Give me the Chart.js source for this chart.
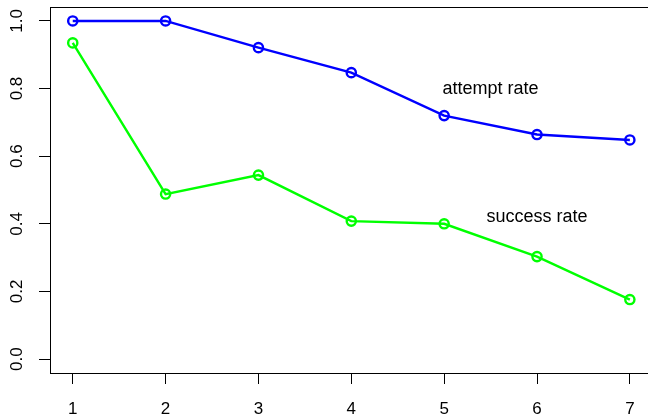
<!DOCTYPE html>
<html>
<head>
<meta charset="utf-8">
<script src="https://cdn.jsdelivr.net/npm/chart.js@4.4.1/dist/chart.umd.min.js"></script>
<style>
  html, body { margin: 0; padding: 0; background: #fff; }
  #wrap { width: 648px; height: 420px; }
</style>
</head>
<body>
<div id="wrap"><canvas id="rates" width="648" height="420"></canvas></div>
<script>
const steps = [1, 2, 3, 4, 5, 6, 7];
const attemptRate = [1.0, 1.0, 0.921, 0.847, 0.72, 0.664, 0.648];
const successRate = [0.935, 0.488, 0.544, 0.408, 0.4, 0.303, 0.176];
const yTicks = [0, 0.2, 0.4, 0.6, 0.8, 1.0];
const labelText = ["attempt rate", "success rate"];
const labelX = [5.5, 6.0];
const labelY = [0.80, 0.42];

const FONT = "'Liberation Sans', Arial, Helvetica, sans-serif";

// box round the plot region, plus the two text labels
const boxAndLabels = {
  id: "boxAndLabels",
  afterDatasetsDraw(chart) {
    const { ctx, chartArea: a, scales: { x, y } } = chart;
    ctx.save();
    ctx.strokeStyle = "#000";
    ctx.lineWidth = 1;
    ctx.strokeRect(a.left + 0.5, a.top + 0.5, a.right - a.left + 20, a.bottom - a.top);
    ctx.fillStyle = "#000";
    ctx.font = "18px " + FONT;
    ctx.textAlign = "center";
    ctx.textBaseline = "middle";
    labelText.forEach((t, i) => {
      ctx.fillText(t, x.getPixelForValue(labelX[i]), y.getPixelForValue(labelY[i]));
    });
    ctx.restore();
  }
};

const series = (data, color) => ({
  data: steps.map((s, i) => ({ x: s, y: data[i] })),
  borderColor: color,
  backgroundColor: "rgba(0,0,0,0)",
  borderWidth: 2.4,
  pointRadius: 4.6,
  pointBorderWidth: 2.4,
  pointBorderColor: color,
  pointBackgroundColor: "rgba(0,0,0,0)",
  tension: 0
});

new Chart(document.getElementById("rates"), {
  type: "line",
  data: {
    datasets: [series(attemptRate, "#0000ff"), series(successRate, "#00ff00")]
  },
  options: {
    responsive: false,
    animation: false,
    layout: { padding: { top: 6, right: 0, left: 0, bottom: 0 } },
    plugins: { legend: { display: false }, tooltip: { enabled: false } },
    scales: {
      x: {
        type: "linear",
        min: 0.755,
        max: 7.12,
        afterBuildTicks: s => { s.ticks = steps.map(v => ({ value: v })); },
        afterFit: s => { s.height = 47; s.paddingLeft = 0; s.paddingRight = 0; },
        border: { display: false },
        grid: { drawOnChartArea: false, drawTicks: true, tickLength: 11, color: "#000", tickColor: "#000" },
        ticks: { color: "#000", font: { size: 17, family: FONT }, padding: 15, maxRotation: 0, minRotation: 0 }
      },
      y: {
        min: -0.0412,
        max: 1.0412,
        afterBuildTicks: s => { s.ticks = yTicks.map(v => ({ value: v })); },
        afterFit: s => { s.width = 50; s.paddingTop = 0; s.paddingBottom = 0; },
        border: { display: false },
        grid: { drawOnChartArea: false, drawTicks: true, tickLength: 11, color: "#000", tickColor: "#000" },
        ticks: {
          color: "#000", font: { size: 17, family: FONT }, padding: 10,
          crossAlign: "center",
          minRotation: 90, maxRotation: 90,
          callback: v => v.toFixed(1)
        }
      }
    }
  },
  plugins: [boxAndLabels]
});
</script>
</body>
</html>
